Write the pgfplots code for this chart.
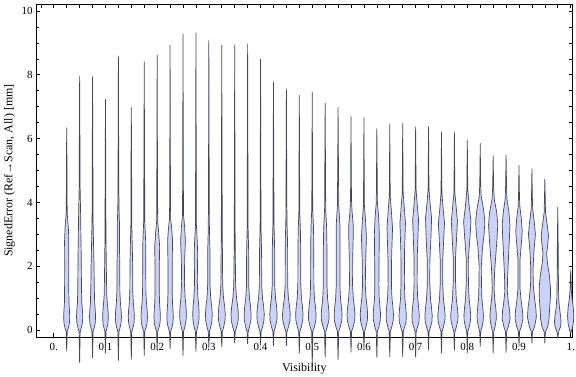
\documentclass[border=0pt]{standalone}
\usepackage{fontspec}
\setmainfont{Liberation Serif}
\usepackage{pgfplots}
\pgfplotsset{compat=1.18}
\definecolor{vfill}{rgb}{0.798,0.825,0.968}
\definecolor{vedge}{rgb}{0.28,0.28,0.33}
\pgfplotsset{
 violin/.style={fill=vfill, draw=vedge, line width=0.7bp, line join=round, mark=none},
 frameaxis/.style={scale only axis, width=536.5bp, height=332.7bp,
   xmin=-0.0344, xmax=1.0035, ymin=-0.2194, ymax=10.21,
   axis line style={line width=0.7bp, black}, clip=false,
   every tick/.style={black, line width=0.6bp}},
}
% #1 = position, #2 = list of value/half-width(px) pairs, bottom to top
\newcommand\violin[2]{%
  \gdef\Rside{}\gdef\Lside{}%
  \foreach \yy/\ww in {#2}{%
    \pgfmathsetmacro\xr{#1+\ww*0.00178}%
    \pgfmathsetmacro\xl{#1-\ww*0.00178}%
    \xdef\Rside{\Rside(\xr,\yy) }%
    \xdef\Lside{(\xl,\yy) \Lside}%
  }%
  \edef\temp{\noexpand\addplot[violin] coordinates {\Rside\Lside};}%
  \temp
}
\begin{document}
\begin{tikzpicture}
\begin{axis}[frameaxis, tick pos=right,
  xtick={-0.025,0,...,1.0}, ytick={0,0.5,...,10},
  xticklabels={}, yticklabels={}, major tick length=4bp]
\end{axis}
\begin{axis}[frameaxis, tick pos=left,
  xtick={0,0.1,0.2,0.3,0.4,0.5,0.6,0.7,0.8,0.9,1},
  xticklabels={0.,0.1,0.2,0.3,0.4,0.5,0.6,0.7,0.8,0.9,1.},
  ytick={0,2,4,6,8,10}, yticklabels={0,2,4,6,8,10},
  minor y tick num=3, major tick length=4.3bp, minor tick length=2.6bp,
  tick label style={font=\fontsize{11}{13}\selectfont, black},
  xticklabel style={yshift=-3bp}]
\violin{0.025}{-0.67/0, -0.35/0.35, -0.05/0.6, 0.05/1.7, 0.2/2.9, 0.4/3.3, 0.6/3.0, 0.85/2.5, 1.2/2.3, 2.0/2.2, 2.8/2.3, 3.2/1.8, 3.6/0.7, 4.0/0.4, 5.0/0.35, 6.34/0}
\violin{0.05}{-1.04/0, -0.5/0.35, -0.05/0.6, 0.05/1.6, 0.2/2.9, 0.4/3.4, 0.6/3.1, 0.85/2.4, 1.3/2.0, 2.2/1.8, 3.0/1.4, 3.6/1.1, 4.5/0.5, 5.5/0.4, 7.96/0}
\violin{0.075}{-0.87/0, -0.45/0.35, -0.05/0.6, 0.05/1.6, 0.2/2.8, 0.4/3.3, 0.6/3.0, 0.85/2.3, 1.3/1.9, 2.0/1.6, 2.8/1.0, 3.5/0.5, 5/0.4, 7.94/0}
\violin{0.1}{-0.73/0, -0.4/0.35, -0.05/0.6, 0.05/1.5, 0.2/2.7, 0.4/3.1, 0.6/2.8, 0.85/2.0, 1.1/1.4, 1.6/1.1, 2.3/0.8, 3.0/0.5, 5/0.35, 7.23/0}
\violin{0.125}{-0.96/0, -0.5/0.35, -0.05/0.6, 0.05/1.6, 0.2/2.8, 0.4/3.3, 0.6/3.0, 0.85/2.2, 1.2/1.6, 2.0/1.5, 2.6/1.2, 3.3/1.2, 3.9/0.6, 5/0.4, 8.59/0}
\violin{0.15}{-0.93/0, -0.5/0.35, -0.05/0.6, 0.05/1.6, 0.2/2.8, 0.4/3.3, 0.6/3.0, 0.85/2.2, 1.2/1.6, 2.0/1.5, 2.7/1.0, 3.3/0.5, 5/0.35, 6.98/0}
\violin{0.175}{-0.8/0, -0.4/0.35, -0.05/0.6, 0.05/1.7, 0.2/3.0, 0.4/3.5, 0.6/3.2, 0.85/2.4, 1.2/1.8, 2.0/1.7, 2.8/1.5, 3.4/0.6, 5/0.4, 8.41/0}
\violin{0.2}{-0.65/0, -0.35/0.35, -0.05/0.6, 0.05/1.7, 0.2/3.0, 0.4/3.5, 0.6/3.2, 0.85/2.6, 1.2/2.3, 2.0/2.3, 2.6/2.7, 3.0/1.8, 3.4/0.6, 4.5/0.4, 8.62/0}
\violin{0.225}{-0.6/0, -0.3/0.35, -0.05/0.6, 0.05/1.7, 0.2/3.0, 0.4/3.5, 0.6/3.2, 0.85/2.6, 1.2/2.3, 2.1/2.3, 2.8/2.7, 3.1/2.0, 3.5/0.6, 4.5/0.4, 8.93/0}
\violin{0.25}{-0.82/0, -0.4/0.35, -0.05/0.6, 0.1/2.0, 0.3/3.3, 0.5/3.7, 0.75/3.2, 1.0/2.3, 1.5/1.5, 2.2/1.8, 2.8/2.6, 3.2/1.8, 3.6/0.6, 4.5/0.4, 9.28/0}
\violin{0.275}{-0.68/0, -0.35/0.35, -0.05/0.6, 0.1/2.0, 0.3/3.2, 0.5/3.5, 0.75/3.1, 1.0/2.2, 1.5/1.5, 2.0/1.7, 2.4/1.9, 2.8/1.4, 3.3/0.5, 4.5/0.4, 9.31/0}
\violin{0.3}{-0.57/0, -0.3/0.35, -0.05/0.6, 0.1/2.1, 0.3/3.4, 0.5/3.7, 0.75/3.1, 1.0/2.0, 1.4/1.3, 2.5/1.2, 3.2/0.6, 4.5/0.4, 9.09/0}
\violin{0.325}{-0.53/0, -0.3/0.35, -0.05/0.6, 0.1/2.1, 0.3/3.5, 0.5/3.8, 0.75/3.1, 1.0/1.9, 1.4/1.0, 2.5/0.7, 3.2/0.5, 8.93/0}
\violin{0.35}{-0.42/0, -0.25/0.35, -0.05/0.6, 0.1/2.2, 0.3/3.7, 0.5/4.0, 0.75/3.2, 1.0/2.0, 1.4/1.0, 2.5/0.6, 3.2/0.45, 8.93/0}
\violin{0.375}{-0.44/0, -0.25/0.35, -0.05/0.6, 0.1/2.1, 0.3/3.5, 0.5/3.8, 0.75/3.1, 1.0/2.0, 1.4/1.2, 2.5/1.1, 3.2/0.5, 8.97/0}
\violin{0.4}{-0.48/0, -0.25/0.35, -0.05/0.6, 0.1/2.2, 0.3/3.7, 0.5/4.0, 0.75/3.3, 1.0/2.1, 1.4/1.3, 2.5/1.1, 3.2/0.5, 8.49/0}
\violin{0.425}{-0.5/0, -0.25/0.35, -0.05/0.6, 0.1/2.2, 0.3/3.7, 0.5/4.0, 0.75/3.3, 1.0/2.2, 1.4/1.4, 2.5/1.3, 3.3/0.6, 7.77/0}
\violin{0.45}{-0.5/0, -0.25/0.35, -0.05/0.6, 0.1/2.3, 0.3/3.9, 0.5/4.2, 0.75/3.4, 1.0/2.2, 1.4/1.4, 2.7/1.3, 3.4/0.6, 7.56/0}
\violin{0.475}{-0.74/0, -0.4/0.35, -0.05/0.6, 0.1/2.2, 0.3/3.7, 0.5/4.0, 0.75/3.3, 1.0/2.3, 1.4/1.6, 2.5/1.5, 3.1/1.2, 3.7/0.5, 7.36/0}
\violin{0.5}{-1.15/0, -0.6/0.35, -0.05/0.6, 0.1/2.3, 0.3/3.9, 0.5/4.2, 0.75/3.4, 1.0/2.4, 1.4/1.8, 2.5/1.7, 3.2/1.4, 3.8/0.5, 7.46/0}
\violin{0.525}{-0.86/0, -0.45/0.35, -0.05/0.6, 0.1/2.3, 0.3/4.0, 0.5/4.3, 0.75/3.5, 1.0/2.6, 1.4/2.0, 2.5/2.0, 3.2/1.6, 3.8/0.6, 7.11/0}
\violin{0.55}{-0.94/0, -0.5/0.35, -0.05/0.6, 0.1/2.3, 0.3/4.0, 0.5/4.3, 0.75/3.5, 1.0/2.6, 1.4/2.0, 2.5/2.0, 3.3/2.0, 3.9/0.7, 6.98/0}
\violin{0.575}{-0.7/0, -0.35/0.35, -0.05/0.6, 0.1/2.3, 0.3/4.0, 0.5/4.3, 0.75/3.5, 1.0/2.5, 1.4/1.7, 2.2/1.8, 2.9/2.4, 3.3/2.4, 3.7/1.2, 4.1/0.5, 6.69/0}
\violin{0.6}{-0.58/0, -0.3/0.35, -0.05/0.6, 0.1/2.2, 0.3/3.7, 0.5/4.0, 0.75/3.3, 1.0/2.3, 1.4/1.5, 2.2/1.9, 2.9/2.7, 3.4/1.8, 3.9/0.5, 6.66/0}
\violin{0.625}{-0.86/0, -0.45/0.35, -0.05/0.6, 0.1/2.2, 0.3/3.7, 0.5/4.0, 0.75/3.3, 1.0/2.5, 1.4/2.2, 2.2/2.4, 3.0/2.7, 3.5/2.0, 4.0/0.6, 6.31/0}
\violin{0.65}{-0.84/0, -0.45/0.35, -0.05/0.6, 0.1/2.2, 0.3/3.7, 0.5/4.0, 0.75/3.3, 1.0/2.4, 1.4/1.8, 2.3/2.0, 3.2/3.0, 3.7/1.8, 4.2/0.5, 6.44/0}
\violin{0.675}{-0.86/0, -0.45/0.35, -0.05/0.6, 0.1/2.2, 0.25/3.6, 0.45/4.0, 0.7/3.3, 1.0/2.3, 1.5/1.8, 2.5/2.0, 3.35/3.0, 3.8/1.8, 4.3/0.5, 6.48/0}
\violin{0.7}{-0.86/0, -0.45/0.35, -0.05/0.6, 0.1/2.2, 0.25/3.6, 0.45/4.0, 0.7/3.3, 1.0/2.2, 1.5/1.6, 2.3/1.8, 2.9/2.5, 3.45/3.2, 3.9/1.8, 4.4/0.5, 6.37/0}
\violin{0.725}{-0.63/0, -0.3/0.35, -0.05/0.6, 0.1/2.2, 0.25/3.6, 0.45/4.0, 0.7/3.2, 1.0/2.1, 1.5/1.3, 2.2/1.5, 2.9/2.6, 3.5/3.3, 4.0/1.6, 4.4/0.5, 6.37/0}
\violin{0.75}{-0.73/0, -0.35/0.35, -0.05/0.6, 0.1/2.2, 0.3/3.7, 0.45/4.0, 0.7/3.2, 1.0/2.1, 1.5/1.3, 2.2/1.4, 2.9/2.5, 3.35/3.3, 3.8/1.8, 4.3/0.5, 6.19/0}
\violin{0.775}{-0.63/0, -0.3/0.35, -0.05/0.6, 0.1/2.2, 0.3/3.7, 0.45/4.0, 0.7/3.2, 1.0/2.0, 1.5/1.3, 2.3/1.3, 2.9/2.4, 3.4/3.3, 3.9/1.8, 4.3/0.5, 6.2/0}
\violin{0.8}{-0.73/0, -0.35/0.35, -0.05/0.6, 0.1/2.1, 0.3/3.4, 0.45/3.7, 0.7/3.0, 1.0/1.9, 1.5/1.2, 2.2/1.1, 2.8/2.6, 3.4/4.0, 3.9/2.0, 4.4/0.5, 5.96/0}
\violin{0.825}{-0.52/0, -0.25/0.35, -0.05/0.6, 0.1/2.0, 0.3/3.2, 0.45/3.5, 0.7/2.8, 1.0/1.8, 1.5/1.3, 2.0/1.2, 2.6/2.5, 3.0/4.2, 3.4/5.0, 3.8/3.5, 4.2/1.0, 4.6/0.5, 5.85/0}
\violin{0.85}{-0.73/0, -0.35/0.35, -0.05/0.6, 0.1/2.0, 0.3/3.2, 0.45/3.5, 0.7/2.8, 1.0/1.6, 1.3/1.0, 1.8/1.5, 2.2/2.5, 2.8/4.0, 3.3/5.0, 3.7/3.8, 4.1/1.2, 4.5/0.5, 5.46/0}
\violin{0.875}{-0.71/0, -0.35/0.35, -0.05/0.6, 0.1/2.4, 0.35/4.3, 0.6/3.8, 0.9/2.4, 1.2/1.3, 1.7/1.7, 2.2/2.5, 2.8/3.5, 3.3/4.2, 3.7/3.0, 4.1/1.0, 4.5/0.5, 5.49/0}
\violin{0.9}{-0.52/0, -0.25/0.35, -0.05/0.6, 0.1/2.4, 0.35/4.3, 0.6/3.8, 0.9/2.4, 1.3/1.1, 2.2/1.1, 2.7/2.5, 3.1/3.5, 3.5/2.5, 3.9/0.8, 4.3/0.45, 5.16/0}
\violin{0.925}{-0.42/0, -0.2/0.35, -0.05/0.7, 0.1/2.8, 0.4/4.8, 0.7/4.2, 1.0/2.8, 1.4/1.5, 1.9/1.2, 2.5/2.2, 3.0/3.8, 3.4/2.5, 3.8/0.8, 4.2/0.45, 5.05/0}
\violin{0.95}{-0.42/0, -0.2/0.35, -0.05/0.8, 0.1/3.2, 0.35/4.6, 0.6/5.0, 1.0/6.0, 1.3/6.2, 1.7/5.0, 2.1/2.8, 2.4/2.0, 2.65/3.0, 2.95/4.0, 3.3/2.5, 3.7/0.7, 4.1/0.45, 4.73/0}
\violin{0.975}{-0.26/0, -0.15/0.4, -0.02/1.2, 0.1/3.0, 0.25/3.6, 0.45/3.0, 0.7/1.8, 1.0/1.0, 1.6/0.7, 2.5/0.5, 3.85/0}
\violin{1.0}{-0.1/0, 0.0/1.2, 0.2/2.8, 0.45/3.4, 0.7/2.8, 1.0/1.4, 1.3/0.6, 1.6/0.4, 1.88/0}
\coordinate (SW) at (rel axis cs:0,0);
\coordinate (NE) at (rel axis cs:1,1);
\coordinate (YL) at (rel axis cs:0,0.5);
\coordinate (XL) at (rel axis cs:0.5,0);
\end{axis}
\node[rotate=90, font=\fontsize{12}{14}\selectfont] at ([xshift=-26.5bp]YL) {SignedError (Ref→Scan, All) [mm]};
\node[font=\fontsize{12}{14}\selectfont] at ([yshift=-32bp]XL) {Visibility};
\pgfresetboundingbox
\path[use as bounding box] ([shift={(-36bp,-40bp)}]SW) rectangle ([shift={(3.5bp,4.3bp)}]NE);
\end{tikzpicture}
\end{document}
